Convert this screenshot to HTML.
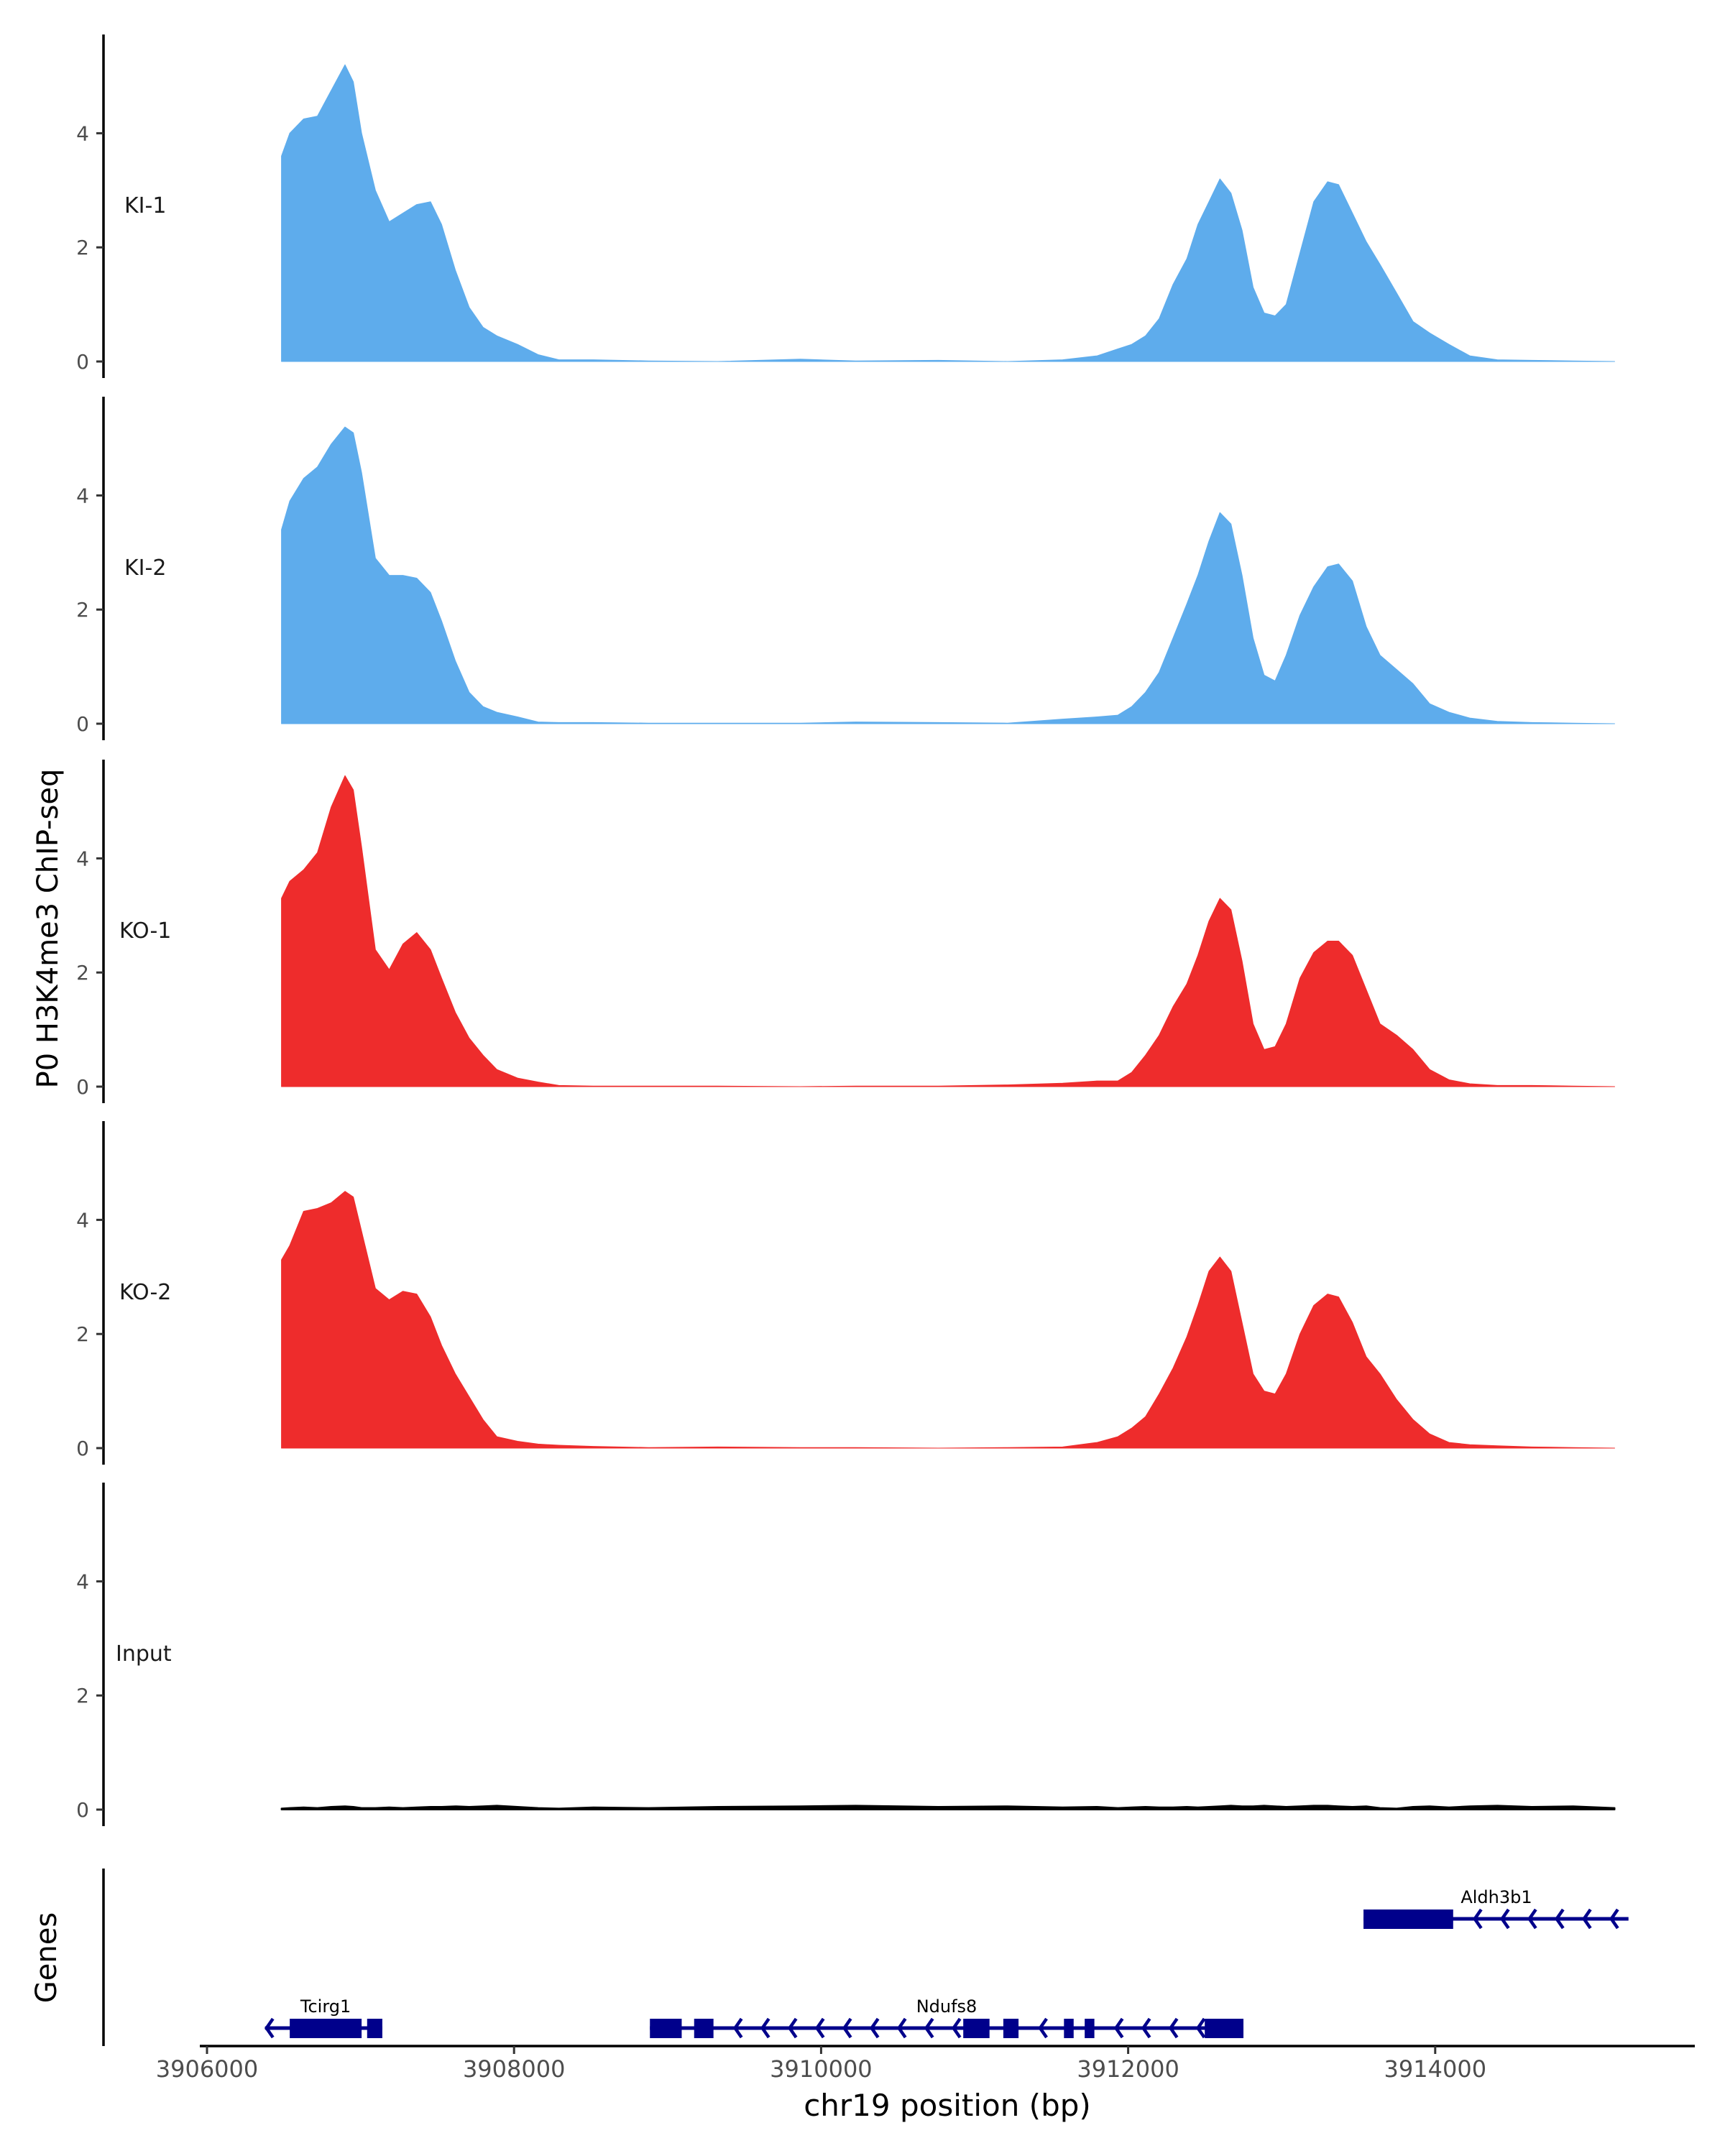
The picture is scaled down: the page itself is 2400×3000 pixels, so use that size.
<!DOCTYPE html>
<html><head><meta charset="utf-8"><style>
html,body{margin:0;padding:0;background:#fff;}
svg{display:block;font-family:"DejaVu Sans","Liberation Sans",sans-serif;}
</style></head><body>
<svg id="chart" width="2400" height="3000" viewBox="0 0 2400 3000" xmlns="http://www.w3.org/2000/svg">
<text x="0" y="0" transform="translate(80,1292) rotate(-90)" text-anchor="middle" font-size="40" fill="#000">P0 H3K4me3 ChIP-seq</text>
<text x="0" y="0" transform="translate(78,2724) rotate(-90)" text-anchor="middle" font-size="40" fill="#000">Genes</text>
<text x="1318" y="2944" text-anchor="middle" font-size="42" fill="#000">chr19 position (bp)</text>
<g id="tracks"></g>
<g id="genes"></g>
<g id="xaxis"></g>
</svg>
<script>
const positions = [3906485,3906539,3906629,3906719,3906809,3906899,3906953,3907007,3907097,3907187,3907276,3907366,3907456,3907528,3907618,3907708,3907798,3907888,3908023,3908157,3908292,3908517,3908876,3909326,3909865,3910225,3910764,3911214,3911573,3911798,3911933,3912023,3912113,3912202,3912292,3912382,3912454,3912526,3912598,3912670,3912742,3912814,3912886,3912957,3913029,3913119,3913209,3913299,3913371,3913461,3913551,3913641,3913749,3913856,3913964,3914090,3914225,3914405,3914629,3914899,3915169];
const trackNames = ["KI-1","KI-2","KO-1","KO-2","Input"];
const ki1 = [3.6,4.0,4.25,4.3,4.75,5.2,4.9,4.0,3.0,2.45,2.6,2.75,2.8,2.4,1.6,0.95,0.6,0.45,0.3,0.12,0.03,0.03,0.01,0.0,0.04,0.01,0.02,0.0,0.03,0.1,0.22,0.3,0.45,0.75,1.35,1.8,2.4,2.8,3.2,2.95,2.3,1.3,0.85,0.8,1.0,1.9,2.8,3.15,3.1,2.6,2.1,1.7,1.2,0.7,0.5,0.3,0.1,0.03,0.02,0.01,0.0];
const ki2 = [3.4,3.9,4.3,4.5,4.9,5.2,5.1,4.4,2.9,2.6,2.6,2.55,2.3,1.8,1.1,0.55,0.3,0.2,0.12,0.03,0.02,0.02,0.01,0.01,0.01,0.03,0.02,0.01,0.08,0.12,0.15,0.3,0.55,0.9,1.5,2.1,2.6,3.2,3.7,3.5,2.6,1.5,0.85,0.75,1.2,1.9,2.4,2.75,2.8,2.5,1.7,1.2,0.95,0.7,0.35,0.2,0.1,0.04,0.02,0.01,0.0];
const ko1 = [3.3,3.6,3.8,4.1,4.9,5.45,5.2,4.2,2.4,2.05,2.5,2.7,2.4,1.9,1.3,0.85,0.55,0.3,0.15,0.08,0.02,0.01,0.01,0.01,0.0,0.01,0.01,0.03,0.06,0.1,0.1,0.25,0.55,0.9,1.4,1.8,2.3,2.9,3.3,3.1,2.2,1.1,0.65,0.7,1.1,1.9,2.35,2.55,2.55,2.3,1.7,1.1,0.9,0.65,0.3,0.12,0.05,0.02,0.02,0.01,0.0];
const ko2 = [3.3,3.55,4.15,4.2,4.3,4.5,4.4,3.8,2.8,2.6,2.75,2.7,2.3,1.8,1.3,0.9,0.5,0.2,0.12,0.07,0.05,0.03,0.01,0.02,0.01,0.01,0.0,0.01,0.02,0.1,0.2,0.35,0.55,0.95,1.4,1.95,2.5,3.1,3.35,3.1,2.2,1.3,1.0,0.95,1.3,2.0,2.5,2.7,2.65,2.2,1.6,1.3,0.85,0.5,0.25,0.1,0.06,0.04,0.02,0.01,0.0];
const input = [0.02,0.03,0.04,0.03,0.05,0.06,0.05,0.03,0.03,0.04,0.03,0.04,0.05,0.05,0.06,0.05,0.06,0.07,0.05,0.03,0.02,0.04,0.03,0.05,0.06,0.07,0.05,0.06,0.04,0.05,0.03,0.04,0.05,0.04,0.04,0.05,0.04,0.05,0.06,0.07,0.06,0.06,0.07,0.06,0.05,0.06,0.07,0.07,0.06,0.05,0.06,0.03,0.02,0.05,0.06,0.04,0.06,0.07,0.05,0.06,0.03];
const trackColors = ["#5eacec","#5eacec","#ee2c2c","#ee2c2c","#000000"];
const yTicks = [0,2,4];
const xTicks = [3906000,3908000,3910000,3912000,3914000];
const geneNames = ["Tcirg1","Ndufs8","Aldh3b1"];
const geneStart = [3906378,3908885,3913533];
const geneEnd = [3907142,3912751,3915259];
const geneExons = [
  [[3906539,3907007],[3907043,3907142]],
  [[3908885,3909092],[3909173,3909299],[3910926,3911097],[3911187,3911286],[3911582,3911645],[3911717,3911780],[3912499,3912751]],
  [[3913533,3914117]]
];
const geneRow = [1,1,0];

const NS="http://www.w3.org/2000/svg";
function X(bp){return 288+(bp-3906000)*0.2136;}
const zeros=[503,1007,1512,2015,2518];
const UNIT=79.4;
function Y(i,v){return zeros[i]-v*UNIT;}
function mk(tag,attrs,parent){const e=document.createElementNS(NS,tag);for(const k in attrs)e.setAttribute(k,attrs[k]);parent.appendChild(e);return e;}

const series=[ki1,ki2,ko1,ko2,input];
const tg=document.getElementById('tracks');
series.forEach((vals,i)=>{
  const g=mk('g',{},tg);
  
  
  const ax=mk('line',{x1:144,x2:144,y1:zeros[i]-455,y2:zeros[i]+23,stroke:'#000','stroke-width':3.5},g);
  
  
  yTicks.forEach(t=>{
    const tl=mk('line',{x1:134,x2:144,y1:Y(i,t),y2:Y(i,t),stroke:'#333','stroke-width':3},g);
    
    
    const tx=mk('text',{x:124,y:Y(i,t)+10,'text-anchor':'end','font-size':28,fill:'#4d4d4d'},g);
    tx.textContent=t;
    
    
  });
  const lab=mk('text',{x:i<2?173:(i<4?166:161),y:zeros[i]-207,'font-size':30,fill:'#1a1a1a'},g);
  lab.textContent=trackNames[i];
  
  
  let d='M'+X(positions[0])+','+Y(i,0);
  positions.forEach((p,j)=>{d+=' L'+X(p).toFixed(1)+','+Y(i,vals[j]).toFixed(1);});
  d+=' L'+X(positions[positions.length-1])+','+Y(i,0)+' Z';
  const area=mk('path',{d:d,fill:trackColors[i],stroke:trackColors[i],'stroke-width':i==4?2:1,'stroke-linejoin':'round'},g);
  
  
});

const gg=document.getElementById('genes');
const gax=mk('line',{x1:144,x2:144,y1:2600,y2:2847,stroke:'#000','stroke-width':3.5},gg);


const rowY=[2670,2822];
geneNames.forEach((n,i)=>{
  const g=mk('g',{},gg);
  
  
  const y=rowY[geneRow[i]];
  const col='#00008b';
  mk('line',{x1:X(geneStart[i]),x2:X(geneEnd[i]),y1:y,y2:y,stroke:col,'stroke-width':5},g);
  const ex=geneExons[i];
  ex.forEach(e=>{
    const r=mk('rect',{x:X(e[0]),y:y-13,width:X(e[1])-X(e[0]),height:27,fill:col},g);
    
    
  });
  const chev=[];
  if(i==0){chev.push(X(geneStart[i])+2);}
  let segs=[];
  let prev=X(geneStart[i]);
  const sorted=ex.slice().sort((a,b)=>a[0]-b[0]);
  sorted.forEach(e=>{segs.push([prev,X(e[0])]);prev=X(e[1]);});
  segs.push([prev,X(geneEnd[i])]);
  if(i>0){segs.forEach(s=>{for(let cx=s[0]+30;cx<s[1]-8;cx+=38)chev.push(cx);});}
  chev.forEach(cx=>{
    mk('path',{d:`M${cx+9},${y-13} L${cx},${y} L${cx+9},${y+13}`,fill:'none',stroke:col,'stroke-width':4.5},g);
  });
  const lx=(i==0)?(X(3906539)+X(3907007))/2:(i==1?1317:2082);
  const t=mk('text',{x:lx,y:y-22,'text-anchor':'middle','font-size':24,fill:'#000'},g);
  t.textContent=n;
  
  
});

const xg=document.getElementById('xaxis');
const xl=mk('line',{x1:278,x2:2358,y1:2847,y2:2847,stroke:'#000','stroke-width':3.5},xg);


xTicks.forEach(t=>{
  const l=mk('line',{x1:X(t),x2:X(t),y1:2847,y2:2858,stroke:'#333','stroke-width':3},xg);
  
  
  const tx=mk('text',{x:X(t),y:2890,'text-anchor':'middle','font-size':32,fill:'#4d4d4d'},xg);
  tx.textContent=t;
  
  
});
</script>
</body></html>
